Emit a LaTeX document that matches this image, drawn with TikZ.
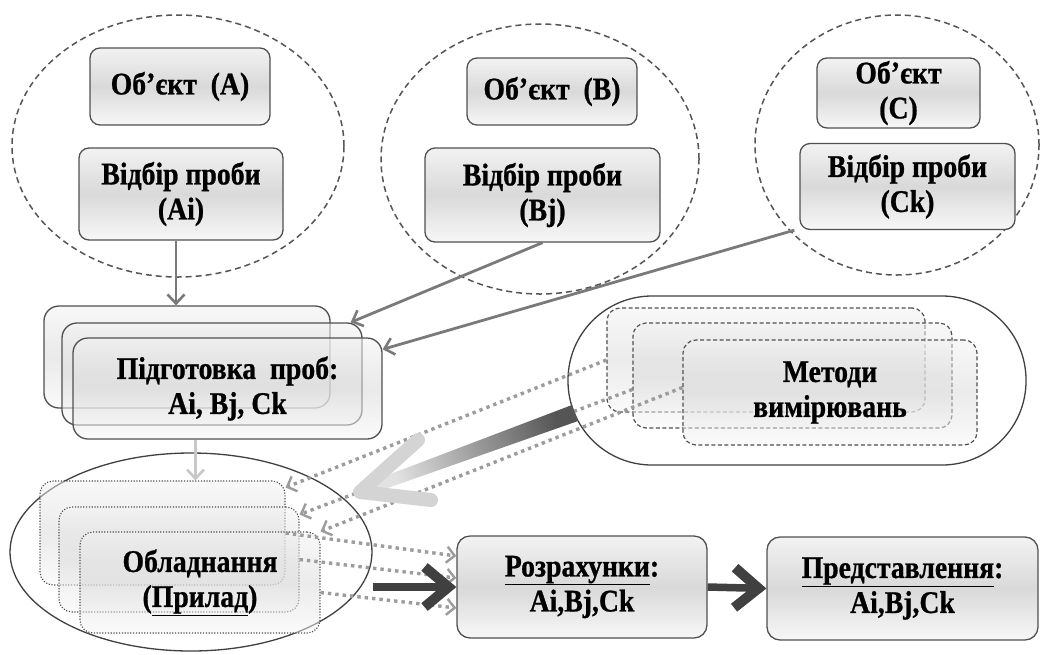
\documentclass[tikz,border=0pt]{standalone}
\usepackage{fontspec}
\setmainfont{Liberation Serif}
\newfontfamily\lblfont{Liberation Serif}[FakeStretch=0.88, FakeBold=0.8]
\usetikzlibrary{shapes.geometric,arrows.meta}
\definecolor{bordc}{HTML}{505050}
\definecolor{gtop}{HTML}{F2F2F2}
\definecolor{gmid}{HTML}{D9D9D9}
\definecolor{gbot}{HTML}{F7F7F7}
\definecolor{arrc}{HTML}{7A7A7A}
\definecolor{lightc}{HTML}{C8C8C8}
\definecolor{dotc}{HTML}{9C9C9C}
\definecolor{darkc}{HTML}{404040}
\definecolor{headc}{HTML}{D4D4D4}
\definecolor{shaftdark}{HTML}{555555}
\definecolor{shaftlight}{HTML}{E2E2E2}
\definecolor{ellc}{HTML}{555555}
\begin{document}
\begin{tikzpicture}[x=1pt,y=-1pt,
  lbl/.style={font=\lblfont\fontsize{31.5}{35}\selectfont\bfseries, align=center, inner sep=0pt, text=black},
  box/.style={lbl, draw=bordc, line width=1.3pt, rounded corners=10pt,
    top color=gtop, bottom color=gbot, middle color=gmid},
  tbox/.style={box, rounded corners=15pt, fill opacity=0.55, text opacity=1},
  dotbox/.style={lbl, draw=bordc, line width=1.1pt, dash pattern=on 1.2pt off 1.6pt, rounded corners=13pt,
    top color=gtop, bottom color=gbot, middle color=gmid, fill opacity=0.5, text opacity=1},
  dashbox/.style={lbl, draw=bordc, line width=1.2pt, dash pattern=on 4pt off 2.5pt, rounded corners=13pt,
    top color=gtop, bottom color=gbot, middle color=gmid, fill opacity=0.5, text opacity=1},
  dashell/.style={ellipse, draw=ellc, line width=1.5pt, dash pattern=on 6pt off 4pt, inner sep=0pt},
  grayarr/.style={draw=arrc, line width=2.8pt, -{Straight Barb[length=9pt,width=17pt,line width=2.6pt]}},
  lightarr/.style={draw=lightc, line width=2.8pt, -{Straight Barb[length=9pt,width=17pt,line width=2.6pt]}},
  dotarr/.style={draw=dotc, line width=3.4pt, dash pattern=on 3.4pt off 4pt,
    -{Straight Barb[length=8pt,width=16pt,line width=2.4pt]}},
  thickarr/.style={draw=darkc, line width=7.5pt, -{Straight Barb[length=24pt,width=40pt,line width=10pt]}}
]
\fill[white] (0,0) rectangle (1040,654);
\useasboundingbox (0,0) rectangle (1040,654);

% dashed ellipses
\node[dashell, minimum width=332pt, minimum height=262pt] (ellA) at (178,146) {};
\node[dashell, minimum width=318pt, minimum height=270pt] (ellB) at (540,159) {};
\node[dashell, minimum width=284pt, minimum height=260pt] (ellC) at (897,145) {};

% object and sample boxes
\node[box, minimum width=180pt, minimum height=77pt] (objA) at (180,86.5) {Об’єкт~~(A)};
\node[box, minimum width=204pt, minimum height=92pt] (sampA) at (181,194) {Відбір проби\\(Ai)};
\node[box, minimum width=170pt, minimum height=67pt] (objB) at (552,91.5) {Об’єкт~~(B)};
\node[box, minimum width=235pt, minimum height=94pt] (sampB) at (542.5,195) {Відбір проби\\(Bj)};
\node[box, minimum width=163pt, minimum height=70pt] (objC) at (898.5,93) {Об’єкт\\(C)};
\node[box, minimum width=215pt, minimum height=86pt] (sampC) at (907.5,186.5) {Відбір проби\\(Ck)};

% containers
\node[ellipse, draw=darkc, line width=1.3pt, fill=white, minimum width=362pt, minimum height=198pt, inner sep=0pt] (obl) at (191,552) {};
\node[rectangle, draw=darkc, line width=1.3pt, fill=white, rounded corners=84pt, minimum width=458pt, minimum height=169pt, inner sep=0pt] (metc) at (797,380.5) {};

% preparation boxes
\node[tbox, minimum width=286pt, minimum height=102pt] (prep1) at (187,357) {};
\node[tbox, minimum width=300pt, minimum height=102pt] (prep2) at (212,374) {};
\node[tbox, minimum width=309pt, minimum height=101pt] (prep3) at (227.5,388.5) {Підготовка~~проб:\\Ai, Bj, Ck};

% equipment boxes
\node[dotbox, minimum width=245pt, minimum height=104pt] (dev1) at (162.5,533) {};
\node[dotbox, minimum width=240pt, minimum height=105pt] (dev2) at (179,559.5) {};
\node[dotbox, minimum width=240pt, minimum height=101pt] (dev3) at (200,582.5) {Обладнання\\(\underline{Прилад})};

% methods boxes
\node[dashbox, minimum width=318pt, minimum height=104pt] (met1) at (766,360) {};
\node[dashbox, minimum width=319pt, minimum height=105pt] (met2) at (792.5,375.5) {};
\node[dashbox, minimum width=294pt, minimum height=105pt] (met3) at (830,392.5) {Методи\\вимірювань};

% result boxes
\node[box, rounded corners=13pt, minimum width=250pt, minimum height=102pt] (calc) at (582,587) {\underline{Розрахунки}:\\Ai,Bj,Ck};
\node[box, rounded corners=13pt, minimum width=271pt, minimum height=103pt] (pres) at (902.5,588.5) {\underline{Представлення}:\\Ai,Bj,Ck};

% sample arrows
\draw[grayarr] ([xshift=-5pt]sampA.south) -- ([xshift=-5pt]sampA.south |- prep1.north);
\draw[grayarr] (sampB.south) -- ([xshift=-12pt]prep2.north east);
\draw[grayarr] ([xshift=-5pt]sampC.south west) -- ([yshift=-12pt]prep3.north east);
\draw[lightarr] ([xshift=-32pt]prep3.south) -- ([xshift=-32pt]prep3.south |- dev1.north);

% dotted arrows from methods to equipment
\draw[dotarr] (met1.west) -- ([yshift=-7pt]dev1.north east);
\draw[dotarr] ([yshift=-14pt]met2.west) -- ([yshift=-8pt]dev2.north east);
\draw[dotarr] ([yshift=5pt]met3.west) -- (dev3.north east);

% dotted arrows from equipment to calculations
\draw[dotarr] (dev1.east) -- ([yshift=31pt]calc.west);
\draw[dotarr] (dev2.east) -- ([yshift=9pt]calc.west);
\draw[dotarr] ([yshift=-10pt]dev3.east) -- ([yshift=-21pt]calc.west);

% big gradient arrow from methods to equipment
\coordinate (bigS) at (575,413);
\coordinate (bigT) at (360,492);
\shade[left color=shaftlight, right color=shaftdark, shading angle=110]
  (572.0,405.0) -- (578.0,421.0) -- (377.8,491.5) -- (374.4,480.1) -- cycle;
\draw[headc, line width=14pt, line cap=round, line join=round] (418,440) -- (bigT) -- (431,500);

% thick dark arrows
\draw[thickarr] (calc.west -| obl.east) -- (calc.west);
\draw[thickarr] (calc.east) -- (pres.west);
\end{tikzpicture}
\end{document}
